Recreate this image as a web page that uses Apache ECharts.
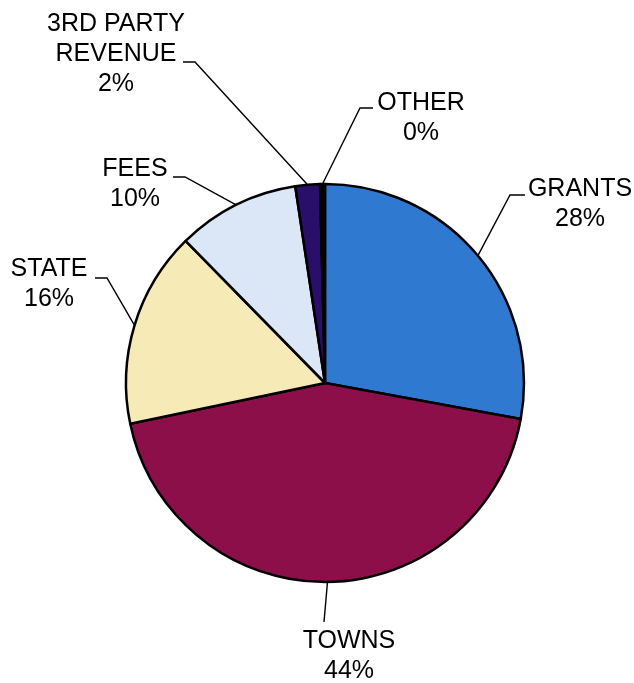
<!DOCTYPE html>
<html>
<head>
<meta charset="utf-8">
<script src="https://cdn.jsdelivr.net/npm/echarts@6/dist/echarts.min.js"></script>
<style>
  html, body { margin: 0; padding: 0; background: #fff; }
  #revenue_pie { width: 634px; height: 683px; }
</style>
</head>
<body>
<div id="revenue_pie"></div>
<script>
  // data (percent of revenue)
  var names = ['GRANTS', 'TOWNS', 'STATE', 'FEES', '3RD PARTY\nREVENUE', 'OTHER'];
  var values = [28, 44, 16, 10, 2, 0.4];
  var colors = ['#2f7ad0', '#8c0f4a', '#f6ebb6', '#dbe7f7', '#2a0f6a', '#000000'];

  // label placement: [centre x, top y], leader elbow and end
  var labelSpots = {
    'GRANTS': { pos: [580, 174], elbow: [510, 195], end: [525, 195] },
    'TOWNS': { pos: [349, 626], elbow: [324, 622], end: [324, 622] },
    'STATE': { pos: [49, 254], elbow: [107, 278], end: [95, 278] },
    'FEES': { pos: [135, 154], elbow: [185, 177], end: [173, 177] },
    '3RD PARTY\nREVENUE': { pos: [116, 9], elbow: [195, 62], end: [183, 62] },
    'OTHER': { pos: [421, 88], elbow: [360, 108], end: [373, 108] }
  };

  var pieData = names.map(function (n, i) {
    return { name: n, value: values[i], itemStyle: { color: colors[i] } };
  });

  var myChart = echarts.init(document.getElementById('revenue_pie'));
  var option = {
    animation: false,
    series: [{
      type: 'pie',
      center: [325, 383],
      radius: 199,
      startAngle: 90,
      clockwise: true,
      avoidLabelOverlap: false,
      percentPrecision: 0,
      data: pieData,
      itemStyle: {
        borderColor: '#000',
        borderWidth: 2.5
      },
      label: {
        show: true,
        position: 'outside',
        formatter: '{b}\n{d}%',
        color: '#000',
        fontFamily: 'Liberation Sans, Arial, sans-serif',
        fontSize: 25,
        lineHeight: 30
      },
      labelLine: {
        show: true,
        length: 20,
        length2: 10,
        lineStyle: { color: '#000', width: 1.4 }
      },
      labelLayout: function (params) {
        var name = names[params.dataIndex];
        var spot = labelSpots[name];
        var start = params.labelLinePoints ? params.labelLinePoints[0] : spot.elbow;
        return {
          x: spot.pos[0],
          y: spot.pos[1],
          align: 'center',
          verticalAlign: 'top',
          labelLinePoints: [[start[0], start[1]], spot.elbow, spot.end]
        };
      }
    }]
  };
  myChart.setOption(option);
</script>
</body>
</html>
